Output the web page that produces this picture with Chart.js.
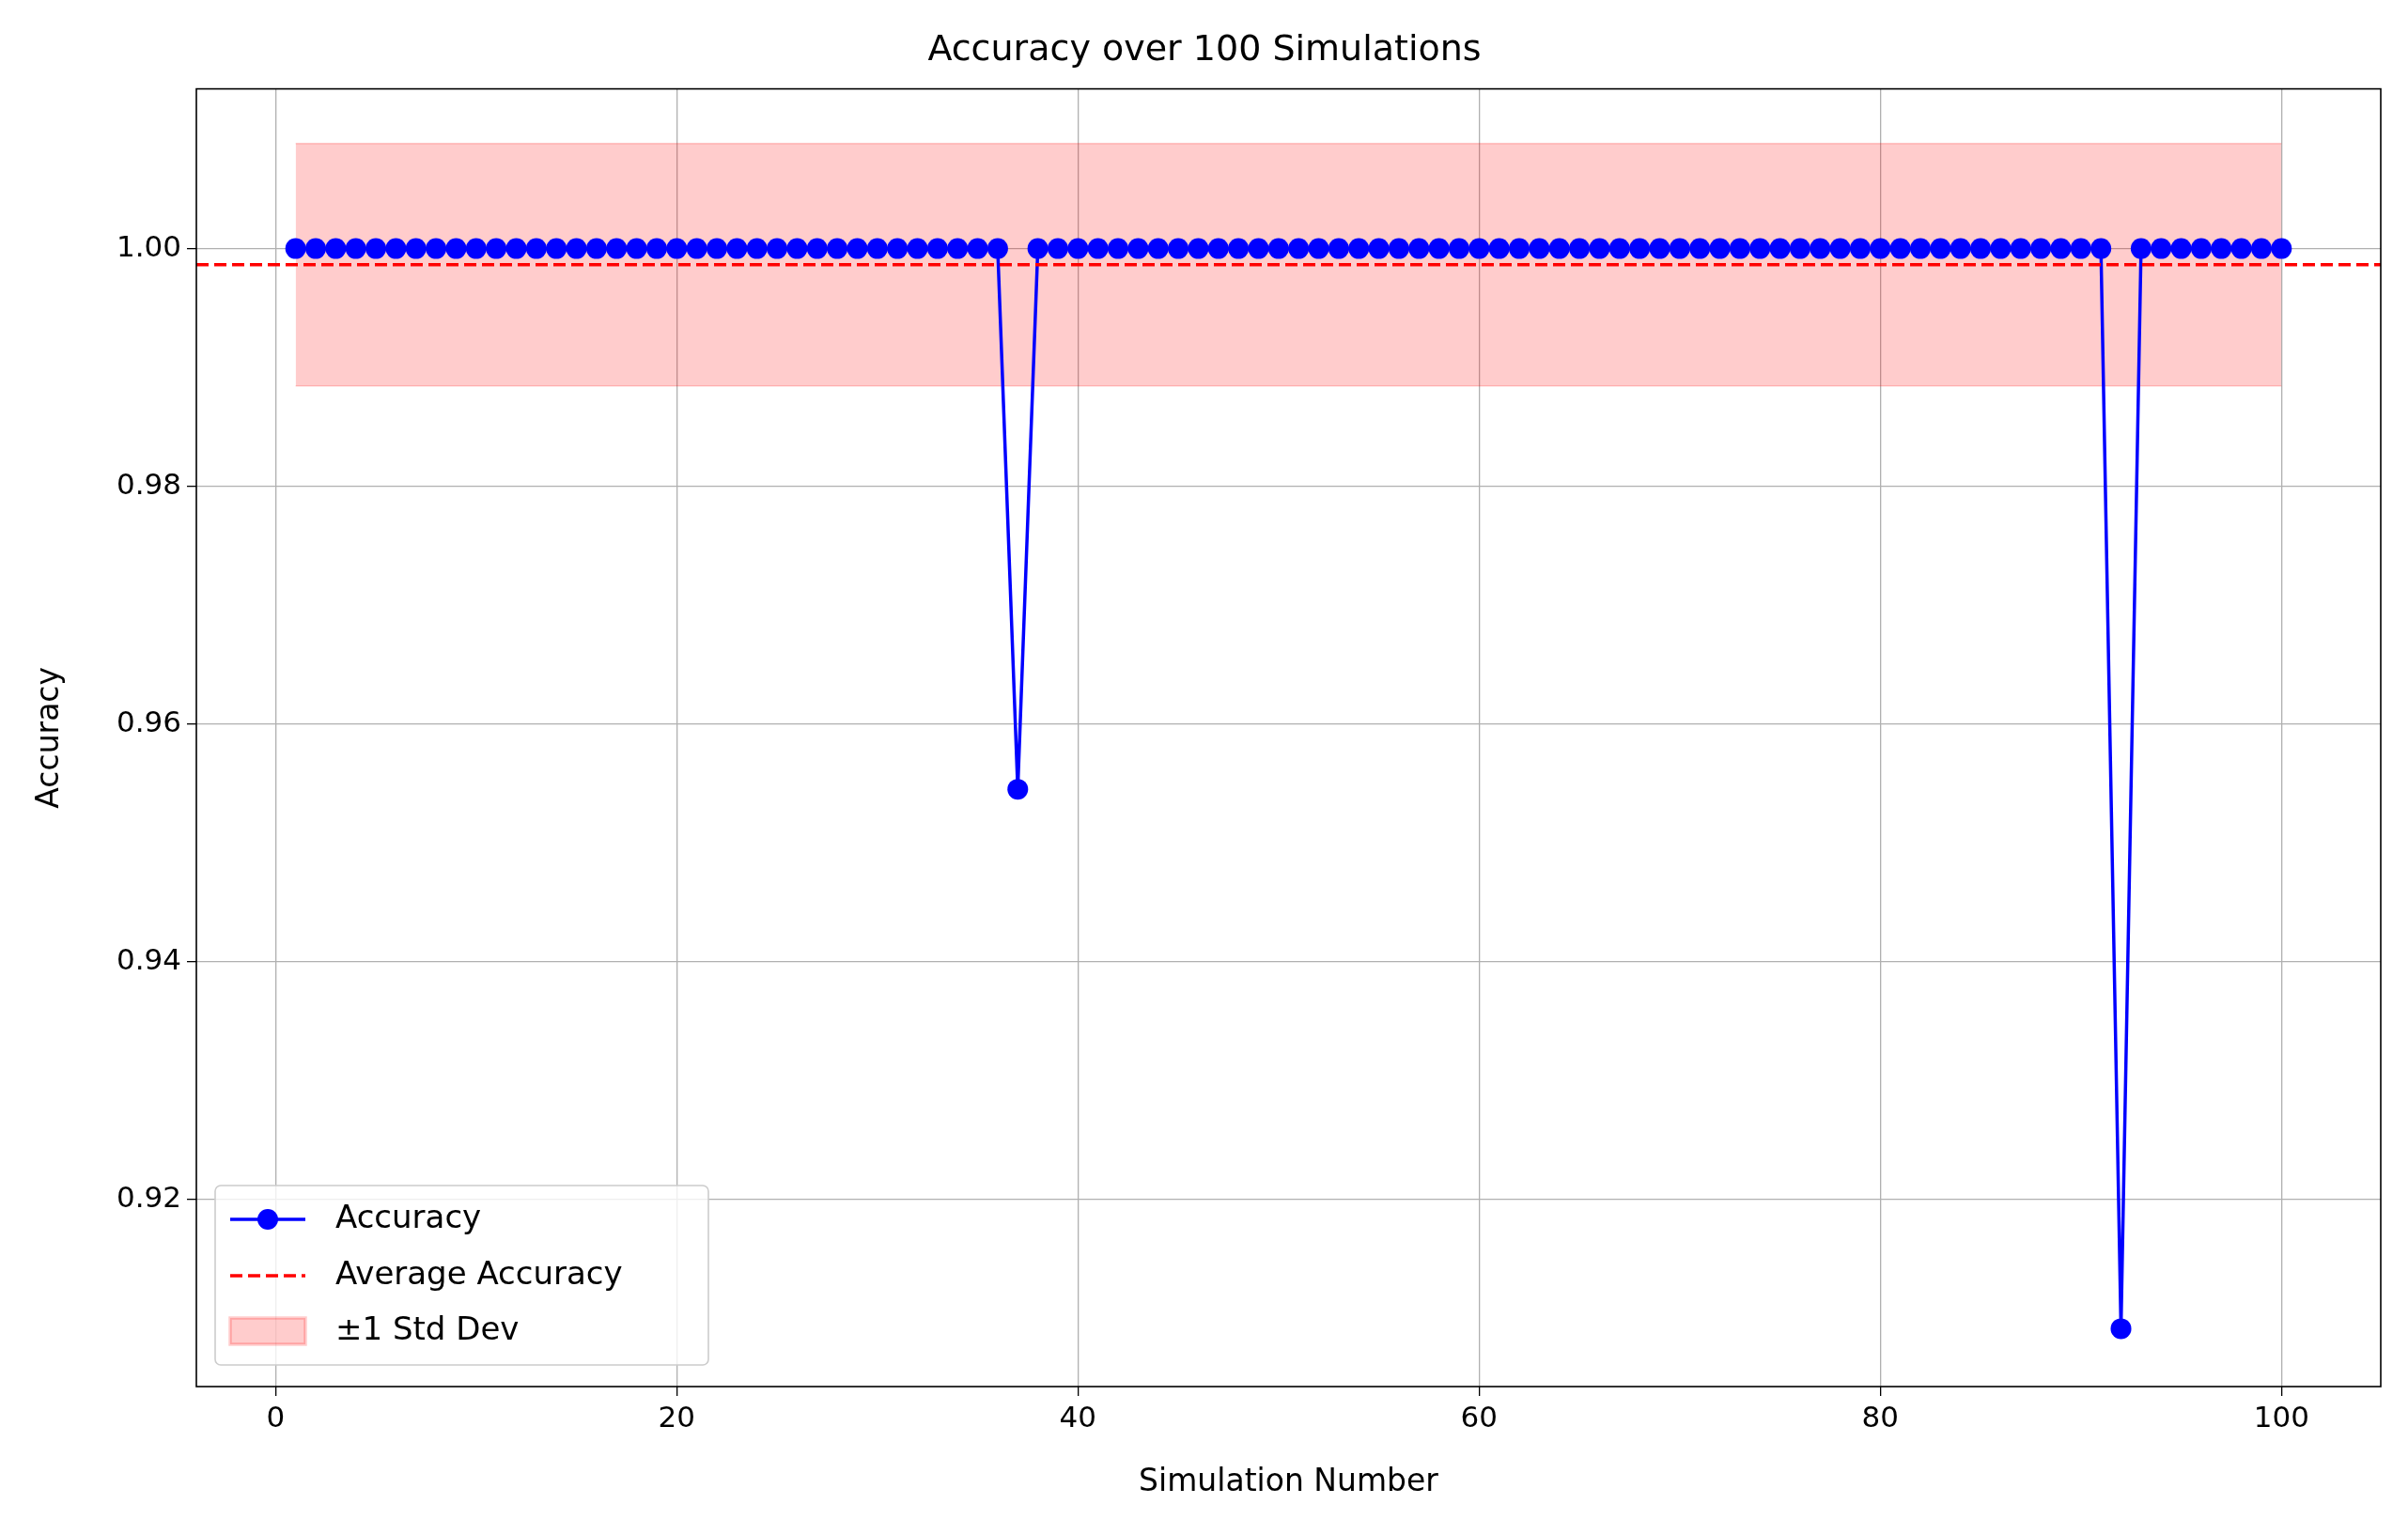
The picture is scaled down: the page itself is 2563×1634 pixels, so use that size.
<!DOCTYPE html>
<html><head><meta charset="utf-8">
<script src="https://cdn.jsdelivr.net/npm/chart.js@4/dist/chart.umd.min.js"></script>
<style>html,body{margin:0;background:#fff}canvas{display:block}</style>
</head><body>
<canvas id="c" width="2563" height="1634" style="width:2563px;height:1634px"></canvas>
<script>
// data
const simNumbers = Array.from({length: 100}, (_, i) => i + 1);
const dropSims = [37, 92];
const dropValues = [0.9545, 0.9091];
const accuracy = simNumbers.map(n => {
    const k = dropSims.indexOf(n);
    return k >= 0 ? dropValues[k] : 1.0;
});
const avgAccuracy = 0.99864;
const stdDev = 0.0102;
const xTicks = [0, 20, 40, 60, 80, 100];
const yTicks = [0.92, 0.94, 0.96, 0.98, 1.00];
const xMin = -3.95, xMax = 104.95, yMin = 0.90423, yMax = 1.01344;

const FONT = "'DejaVu Sans', sans-serif";
Chart.defaults.font.family = FONT;
Chart.defaults.color = '#000';

const framePlugin = {
    id: 'frame',
    afterDraw(chart) {
        const {ctx, chartArea: a} = chart;
        ctx.save();
        ctx.strokeStyle = '#000';
        ctx.lineWidth = 1.6;
        ctx.strokeRect(a.left, a.top, a.right - a.left, a.bottom - a.top);
        // legend
        const lx = 229, ly = 1262, lw = 525, lh = 191;
        ctx.fillStyle = 'rgba(255,255,255,0.8)';
        ctx.strokeStyle = '#cccccc';
        ctx.lineWidth = 1.6;
        ctx.beginPath();
        ctx.roundRect(lx, ly, lw, lh, 6);
        ctx.fill(); ctx.stroke();
        const rows = [ly + 36, ly + 96, ly + 155];
        ctx.font = '34px ' + FONT;
        ctx.fillStyle = '#000';
        ctx.textBaseline = 'middle';
        // Accuracy
        ctx.strokeStyle = 'blue'; ctx.lineWidth = 3.5; ctx.setLineDash([]);
        ctx.beginPath(); ctx.moveTo(lx + 16, rows[0]); ctx.lineTo(lx + 96, rows[0]); ctx.stroke();
        ctx.fillStyle = 'blue';
        ctx.beginPath(); ctx.arc(lx + 56, rows[0], 11, 0, Math.PI * 2); ctx.fill();
        // Average
        ctx.strokeStyle = 'red'; ctx.setLineDash([13, 6]);
        ctx.beginPath(); ctx.moveTo(lx + 16, rows[1]); ctx.lineTo(lx + 96, rows[1]); ctx.stroke();
        ctx.setLineDash([]);
        // band
        ctx.fillStyle = 'rgba(255,0,0,0.2)'; ctx.strokeStyle = 'rgba(255,0,0,0.2)';
        ctx.fillRect(lx + 16, rows[2] - 14, 80, 28);
        ctx.strokeRect(lx + 16, rows[2] - 14, 80, 28);
        ctx.fillStyle = '#000';
        ctx.fillText('Accuracy', lx + 128, rows[0]);
        ctx.fillText('Average Accuracy', lx + 128, rows[1]);
        ctx.fillText('±1 Std Dev', lx + 128, rows[2]);
        ctx.restore();
    }
};

new Chart(document.getElementById('c'), {
    type: 'line',
    data: {
        datasets: [
            {
                label: '+1 Std Dev',
                data: [{x: 1, y: avgAccuracy + stdDev}, {x: 100, y: avgAccuracy + stdDev}],
                borderColor: 'rgba(255,0,0,0.2)', borderWidth: 1.5, pointRadius: 0,
                backgroundColor: 'rgba(255,0,0,0.2)', fill: '+1', order: 3
            },
            {
                label: '-1 Std Dev',
                data: [{x: 1, y: avgAccuracy - stdDev}, {x: 100, y: avgAccuracy - stdDev}],
                borderColor: 'rgba(255,0,0,0.2)', borderWidth: 1.5, pointRadius: 0, fill: false, order: 3
            },
            {
                label: 'Accuracy',
                data: simNumbers.map((n, i) => ({x: n, y: accuracy[i]})),
                borderColor: 'blue', backgroundColor: 'blue', borderWidth: 3.5,
                pointRadius: 11, pointBorderWidth: 0, pointBackgroundColor: 'blue', order: 2
            },
            {
                label: 'Average Accuracy',
                data: [{x: xMin, y: avgAccuracy}, {x: xMax, y: avgAccuracy}],
                borderColor: 'red', borderWidth: 3.5, borderDash: [13, 6], pointRadius: 0, order: 1
            }
        ]
    },
    options: {
        responsive: false, animation: false, devicePixelRatio: 1,
        layout: {padding: {left: 30, right: 29, top: 0, bottom: 32}},
        plugins: {
            legend: {display: false},
            tooltip: {enabled: false},
            title: {display: true, text: 'Accuracy over 100 Simulations',
                font: {size: 38, weight: 'normal'}, padding: {top: 31, bottom: 18}}
        },
        scales: {
            x: {
                type: 'linear', min: xMin, max: xMax,
                afterBuildTicks: s => { s.ticks = xTicks.map(v => ({value: v})); },
                afterFit: s => { s.height = 126; },
                ticks: {font: {size: 31}, padding: 6, callback: v => String(v)},
                grid: {color: '#b0b0b0', lineWidth: 1.3, tickLength: 10, tickColor: '#000'},
                border: {display: false},
                title: {display: true, text: 'Simulation Number', font: {size: 33}, padding: {top: 4}}
            },
            y: {
                min: yMin, max: yMax,
                afterBuildTicks: s => { s.ticks = yTicks.map(v => ({value: v})); },
                afterFit: s => { s.width = 179; },
                ticks: {font: {size: 31}, padding: 6, callback: v => v.toFixed(2)},
                grid: {color: '#b0b0b0', lineWidth: 1.3, tickLength: 10, tickColor: '#000'},
                border: {display: false},
                title: {display: true, text: 'Accuracy', font: {size: 33}, padding: {bottom: 10}}
            }
        }
    },
    plugins: [framePlugin]
});
</script>
</body></html>
